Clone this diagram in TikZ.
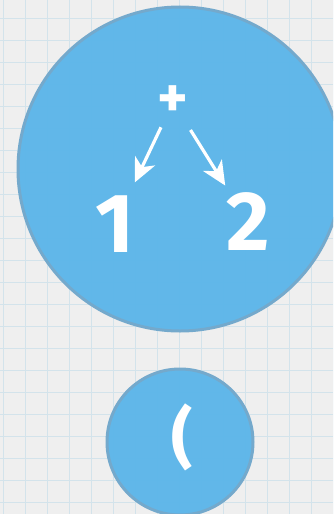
\documentclass[tikz,border=0pt]{standalone}
\usepackage{fontspec}
\setmainfont{Fira Sans}
\usetikzlibrary{arrows.meta}

\definecolor{paper}{HTML}{EFEFEF}
\definecolor{gridline}{HTML}{D3E3EB}
\definecolor{bubble}{HTML}{5AB5E9}
\definecolor{bubbleedge}{HTML}{74A9CC}

\tikzset{
  bubblenode/.style={circle, fill=bubble, draw=bubbleedge, line width=3pt, fill opacity=0.95, draw opacity=1, inner sep=0pt},
  glyph/.style={text=white, font=\bfseries, inner sep=0pt},
  treearrow/.style={white, line width=3.2pt, -{Stealth[length=24pt,width=22pt,inset=7pt]}}
}

\begin{document}
\begin{tikzpicture}[x=1pt, y=-1pt]
  \useasboundingbox (0,0) rectangle (333,514);
  \clip (0,0) rectangle (333,514);

  % Paper background with grid
  \fill[paper] (0,0) rectangle (333,514);
  \foreach \x in {3,25,...,333} {
    \draw[gridline, line width=0.8pt] (\x, 0) -- (\x, 514);
  }
  \foreach \y in {18,40,...,514} {
    \draw[gridline, line width=0.8pt] (0, \y) -- (333, \y);
  }

  % The two bubbles
  \node[bubblenode, minimum size=324pt] (bigbubble) at (180, 169) {};
  \node[bubblenode, minimum size=146pt] (smallbubble) at (180, 442) {};

  % Tree inside the big bubble
  \node[glyph, font=\bfseries\fontsize{58}{58}\selectfont] (plus) at (173, 102) {+};
  \node[glyph, font=\bfseries\fontsize{84}{84}\selectfont] (one) at (115, 224) {1};
  \node[glyph, font=\bfseries\fontsize{84}{84}\selectfont] (two) at (248, 222) {2};
  \draw[treearrow, shorten <=28pt, shorten >=46pt] (plus.center) -- (one.center);
  \draw[treearrow, shorten <=33pt, shorten >=43pt] (plus.center) -- (two.center);

  % Paren inside the small bubble
  \node[glyph, font=\bfseries\fontsize{66}{66}\selectfont] (paren) at (182, 437) {(};
\end{tikzpicture}
\end{document}
